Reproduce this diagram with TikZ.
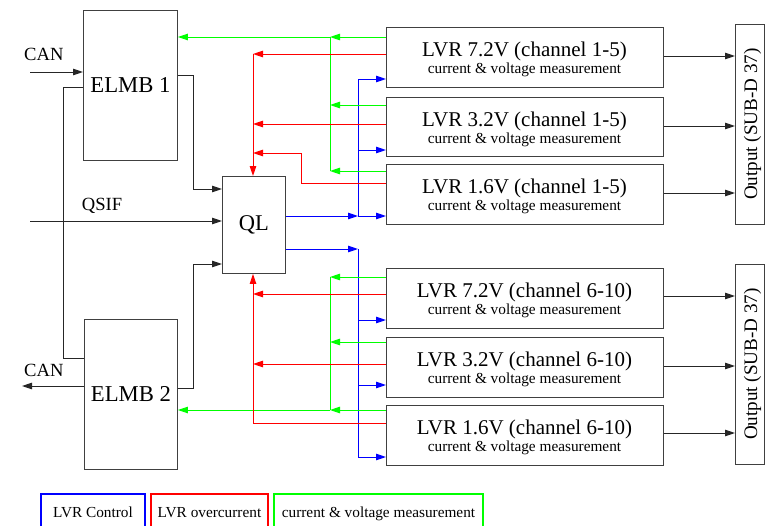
\documentclass[tikz,border=0pt]{standalone}
\usepackage{fontspec}
\setmainfont{Liberation Serif}
\usetikzlibrary{arrows.meta,calc}
\begin{document}
\begin{tikzpicture}[x=1pt,y=-1pt,
  >={Triangle[length=10pt,width=6.5pt]},
  box/.style={draw=black!75, line width=0.9pt, inner sep=0pt, anchor=north west},
  bigtxt/.style={font=\fontsize{22.7}{24}\selectfont},
  maintxt/.style={anchor=base, inner sep=0pt, font=\fontsize{21}{22}\selectfont},
  subtxt/.style={anchor=base, inner sep=0pt, font=\fontsize{15.3}{16}\selectfont},
  lbl/.style={anchor=base west, inner sep=0pt, font=\fontsize{18.6}{20}\selectfont},
  outtxt/.style={rotate=90, inner sep=0pt, font=\fontsize{19.1}{20}\selectfont},
  wire/.style={line width=1pt},
  kw/.style={wire, draw=black!85},
  bw/.style={wire, draw=blue},
  rw/.style={wire, draw=red},
  gw/.style={wire, draw=green},
  legend/.style={line width=2.2pt, inner sep=0pt, minimum height=36pt, text height=12pt, text depth=2pt, font=\fontsize{15.3}{16}\selectfont}
]
\useasboundingbox (0,0) rectangle (765,525);

% main blocks
\node[box, bigtxt, minimum width=94pt, minimum height=150pt] (elmb1) at (83,10) {ELMB 1};
\node[box, bigtxt, minimum width=93pt, minimum height=150pt] (elmb2) at (84,319) {ELMB 2};
\node[box, font=\fontsize{22.5}{24}\selectfont, minimum width=63pt, minimum height=97pt] (ql) at (222,176) {QL};

% LVR boxes
\node[box, minimum width=277pt, minimum height=60pt] (lvr1) at (386,27) {};
\node[box, minimum width=277pt, minimum height=59pt] (lvr2) at (386,97) {};
\node[box, minimum width=277pt, minimum height=60pt] (lvr3) at (386,164) {};
\node[box, minimum width=277pt, minimum height=60pt] (lvr4) at (386,268) {};
\node[box, minimum width=277pt, minimum height=60pt] (lvr5) at (386,337) {};
\node[box, minimum width=277pt, minimum height=60pt] (lvr6) at (386,405) {};

\node[maintxt] (lvr1a) at (524.5,56) {LVR 7.2V (channel 1-5)};
\node[subtxt]  (lvr1b) at (524.5,73.5) {current \& voltage measurement};
\node[maintxt] (lvr2a) at (524.5,126) {LVR 3.2V (channel 1-5)};
\node[subtxt]  (lvr2b) at (524.5,143.5) {current \& voltage measurement};
\node[maintxt] (lvr3a) at (524.5,193) {LVR 1.6V (channel 1-5)};
\node[subtxt]  (lvr3b) at (524.5,210.5) {current \& voltage measurement};
\node[maintxt] (lvr4a) at (524.5,297) {LVR 7.2V (channel 6-10)};
\node[subtxt]  (lvr4b) at (524.5,314.5) {current \& voltage measurement};
\node[maintxt] (lvr5a) at (524.5,366) {LVR 3.2V (channel 6-10)};
\node[subtxt]  (lvr5b) at (524.5,383.5) {current \& voltage measurement};
\node[maintxt] (lvr6a) at (524.5,434) {LVR 1.6V (channel 6-10)};
\node[subtxt]  (lvr6b) at (524.5,451.5) {current \& voltage measurement};

% output boxes
\node[box, minimum width=29pt, minimum height=200pt] (out1) at (735,24) {};
\node[box, minimum width=29pt, minimum height=200pt] (out2) at (735,264) {};
\node[outtxt] (out1t) at (752.5,124) {Output (SUB-D 37)};
\node[outtxt] (out2t) at (752.5,364) {Output (SUB-D 37)};

% labels
\node[lbl] (can1) at (24,60) {CAN};
\node[lbl] (can2) at (24,376.7) {CAN};
\node[lbl] (qsif) at (81.7,210) {QSIF};

\coordinate (canin) at (30,72);
\coordinate (canout) at (22,386);
\coordinate (qsifin) at (30,221);

% black connectors
\draw[kw,->] (canin) -- (canin -| elmb1.west);
\draw[kw] (elmb1.west |- 0,87) -| (63,358) -- (elmb2.west |- 0,358);
\draw[kw,->] (elmb2.west |- 0,386) -- (canout);
\draw[kw,->] (qsifin) -- (qsifin -| ql.west);
\draw[kw,->] (elmb1.east |- 0,75) -| (193,189) -- (ql.west |- 0,189);
\draw[kw,->] (elmb2.east |- 0,388) -| (193,264) -- (ql.west |- 0,264);
\draw[kw,->] (lvr1.east |- 0,56) -- (out1.west |- 0,56);
\draw[kw,->] (lvr2.east |- 0,126) -- (out1.west |- 0,126);
\draw[kw,->] (lvr3.east |- 0,193) -- (out1.west |- 0,193);
\draw[kw,->] (lvr4.east |- 0,296) -- (out2.west |- 0,296);
\draw[kw,->] (lvr5.east |- 0,366) -- (out2.west |- 0,366);
\draw[kw,->] (lvr6.east |- 0,433) -- (out2.west |- 0,433);

% blue: LVR control
\coordinate (b1) at (358,216);
\coordinate (b2) at (358,249);
\draw[bw,->] (ql.east |- b1) -- (b1);
\draw[bw] (358,79) -- (b1);
\draw[bw,->] (358,79) -- (lvr1.west |- 0,79);
\draw[bw,->] (358,150) -- (lvr2.west |- 0,150);
\draw[bw,->] (b1) -- (lvr3.west |- b1);
\draw[bw,->] (ql.east |- b2) -- (b2);
\draw[bw] (b2) -- (358,457);
\draw[bw,->] (358,320) -- (lvr4.west |- 0,320);
\draw[bw,->] (358,385) -- (lvr5.west |- 0,385);
\draw[bw,->] (358,457) -- (lvr6.west |- 0,457);

% green: current & voltage measurement
\coordinate (g1) at (330,37);
\coordinate (g2) at (330,410);
\draw[gw,->] (lvr1.west |- g1) -- (g1);
\draw[gw,->] (g1) -- (elmb1.east |- g1);
\draw[gw] (g1) -- (330,171);
\draw[gw,->] (lvr2.west |- 0,105) -- (330,105);
\draw[gw,->] (lvr3.west |- 0,171) -- (330,171);
\draw[gw,->] (lvr4.west |- 0,277) -- (330,277);
\draw[gw] (330,277) -- (g2);
\draw[gw,->] (lvr5.west |- 0,342) -- (330,342);
\draw[gw,->] (lvr6.west |- g2) -- (g2);
\draw[gw,->] (g2) -- (elmb2.east |- g2);

% red: LVR overcurrent
\draw[rw,->] (lvr1.west |- 0,54) -- (253,54);
\draw[rw,->] (253,54) -- ($(ql.north west)+(31,0)$);
\draw[rw,->] (lvr2.west |- 0,124) -- (253,124);
\draw[rw,->] (lvr3.west |- 0,183) -- (301,183) -- (301,153) -- (253,153);
\draw[rw,->] (lvr4.west |- 0,294) -- (253,294);
\draw[rw,->] (lvr5.west |- 0,364) -- (253,364);
\draw[rw,->] (lvr6.west |- 0,423) -- (253,423) -- ($(ql.south west)+(31,0)$);

% legend
\node[legend, draw=blue, minimum width=104pt] (lg1) at (93,512) {LVR Control};
\node[legend, draw=red, minimum width=117pt] (lg2) at (209.5,512) {LVR overcurrent};
\node[legend, draw=green, minimum width=209pt] (lg3) at (378.5,512) {current \& voltage measurement};
\end{tikzpicture}
\end{document}
